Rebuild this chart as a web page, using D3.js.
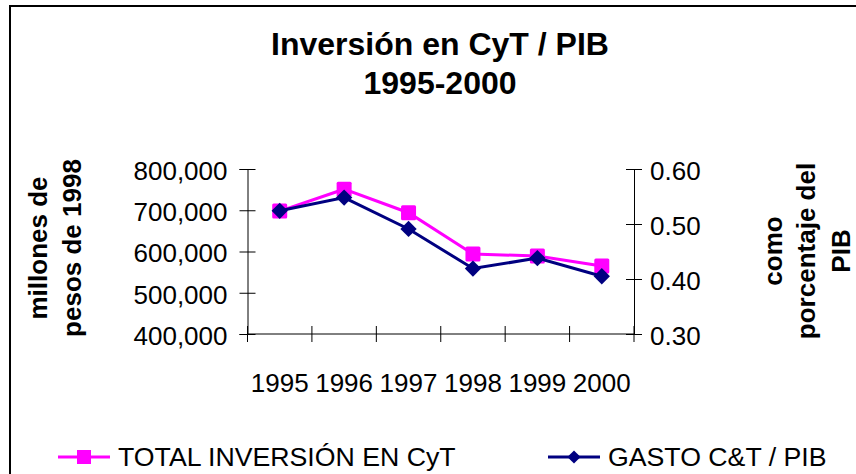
<!DOCTYPE html>
<html>
<head>
<meta charset="utf-8">
<script src="https://cdn.jsdelivr.net/npm/d3@7"></script>
<style>
  body { margin: 0; background: #fff; }
  svg text { font-family: "Liberation Sans", Arial, sans-serif; fill: #000; }
</style>
</head>
<body>
<div id="chart"></div>
<script>
// datos
var years = ["1995", "1996", "1997", "1998", "1999", "2000"];
var inversion = [698000, 751000, 694000, 594000, 589000, 565000];   // millones de pesos de 1998
var gastoPib = [0.524, 0.548, 0.491, 0.419, 0.438, 0.405];         // como porcentaje del PIB
var leftTicks = [400000, 500000, 600000, 700000, 800000];
var rightTicks = [0.30, 0.40, 0.50, 0.60];

var width = 856, height = 474;
var plot = { left: 247.5, right: 634, top: 169, bottom: 334 };

var svg = d3.select("#chart")
  .append("svg")
  .attr("width", width)
  .attr("height", height);

// marco del grafico
svg.append("rect")
  .attr("x", 10).attr("y", 6)
  .attr("width", 900).attr("height", 500)
  .attr("fill", "#fff")
  .attr("stroke", "#000")
  .attr("stroke-width", 2);

// titulo
svg.append("text")
  .attr("x", 440).attr("y", 55)
  .attr("text-anchor", "middle")
  .style("font-size", "32px").style("font-weight", "bold")
  .text("Inversión en CyT / PIB");
svg.append("text")
  .attr("x", 440).attr("y", 94)
  .attr("text-anchor", "middle")
  .style("font-size", "32px").style("font-weight", "bold")
  .text("1995-2000");

var x = d3.scaleBand().domain(years).range([plot.left, plot.right]).padding(0);
var yL = d3.scaleLinear().domain([400000, 800000]).range([plot.bottom, plot.top]);
var yR = d3.scaleLinear().domain([0.3, 0.6]).range([plot.bottom, plot.top]);

// eje izquierdo
var gl = svg.append("g")
  .attr("transform", "translate(" + plot.left + ",0)")
  .call(d3.axisLeft(yL).tickValues(leftTicks).tickFormat(d3.format(",")).tickSize(8).tickPadding(12));
gl.selectAll(".tick line").attr("x1", 8);
gl.selectAll("text").style("font-size", "26px").attr("dy", "0.4em");

// eje derecho
var gr = svg.append("g")
  .attr("transform", "translate(" + plot.right + ",0)")
  .call(d3.axisRight(yR).tickValues(rightTicks).tickFormat(d3.format(".2f")).tickSize(8).tickPadding(8));
gr.selectAll(".tick line").attr("x1", -8);
gr.selectAll("text").style("font-size", "26px").attr("dy", "0.4em");

// eje x: lineas en los bordes de cada banda, etiquetas al centro
var gx = svg.append("g")
  .attr("transform", "translate(0," + plot.bottom + ")")
  .call(d3.axisBottom(x).tickSize(0).tickPadding(58));
gx.select(".domain").attr("d", "M" + plot.left + ",0H" + plot.right);
gx.selectAll("text").style("font-size", "26px").attr("dy", "0");
var edges = years.map(function(d) { return x(d); }).concat([plot.right]);
gx.selectAll(".edge")
  .data(edges)
  .enter().append("line")
  .attr("class", "edge")
  .attr("x1", function(d) { return d; })
  .attr("x2", function(d) { return d; })
  .attr("y1", -8).attr("y2", 8)
  .attr("stroke", "#000");

svg.selectAll(".domain").attr("stroke", "#000");

// titulos de los ejes
var leftTitle = ["millones de", "pesos de 1998"];
var leftX = [47, 81];
leftTitle.forEach(function(t, i) {
  svg.append("text")
    .attr("transform", "translate(" + leftX[i] + ",248) rotate(-90)")
    .attr("text-anchor", "middle")
    .style("font-size", "26px").style("font-weight", "bold")
    .text(t);
});
var rightTitle = ["como", "porcentaje del", "PIB"];
var rightX = [782, 815, 850];
rightTitle.forEach(function(t, i) {
  svg.append("text")
    .attr("transform", "translate(" + rightX[i] + ",251) rotate(-90)")
    .attr("text-anchor", "middle")
    .style("font-size", "26px").style("font-weight", "bold")
    .text(t);
});

var cx = function(d, i) { return x(years[i]) + x.bandwidth() / 2; };
var pink = "#ff00ff", navy = "#000080";
var sq = 15;

// serie 1: total inversion (eje izquierdo)
svg.append("path")
  .datum(inversion)
  .attr("fill", "none").attr("stroke", pink).attr("stroke-width", 3)
  .attr("d", d3.line().x(cx).y(function(d) { return yL(d); }));
svg.selectAll(".sq")
  .data(inversion)
  .enter().append("rect")
  .attr("class", "sq")
  .attr("x", function(d, i) { return cx(d, i) - sq / 2; })
  .attr("y", function(d) { return yL(d) - sq / 2; })
  .attr("width", sq).attr("height", sq)
  .attr("rx", 1.5)
  .attr("fill", pink);

// serie 2: gasto / PIB (eje derecho)
var diamond = d3.symbol().type(d3.symbolDiamond2).size(170);
svg.append("path")
  .datum(gastoPib)
  .attr("fill", "none").attr("stroke", navy).attr("stroke-width", 3)
  .attr("d", d3.line().x(cx).y(function(d) { return yR(d); }));
svg.selectAll(".dm")
  .data(gastoPib)
  .enter().append("path")
  .attr("class", "dm")
  .attr("d", diamond)
  .attr("transform", function(d, i) { return "translate(" + cx(d, i) + "," + yR(d) + ")"; })
  .attr("fill", navy);

// leyenda
var legend = [
  { name: "TOTAL INVERSIÓN EN CyT", color: pink, x: 58, marker: "square" },
  { name: "GASTO C&T / PIB", color: navy, x: 548, marker: "diamond" }
];
var legDiamond = d3.symbol().type(d3.symbolDiamond2).size(110);
var lg = svg.selectAll(".legend")
  .data(legend)
  .enter().append("g")
  .attr("class", "legend")
  .attr("transform", function(d) { return "translate(" + d.x + ",457)"; });
lg.append("line")
  .attr("x1", 0).attr("x2", 52)
  .attr("stroke", function(d) { return d.color; })
  .attr("stroke-width", 3);
lg.append("path")
  .attr("d", function(d) {
    return d.marker == "square" ? "M-7,-7h14v14h-14Z" : legDiamond();
  })
  .attr("transform", "translate(26,0)")
  .attr("fill", function(d) { return d.color; });
lg.append("text")
  .attr("x", 60).attr("y", 9)
  .style("font-size", "26.7px")
  .text(function(d) { return d.name; });
</script>
</body>
</html>
